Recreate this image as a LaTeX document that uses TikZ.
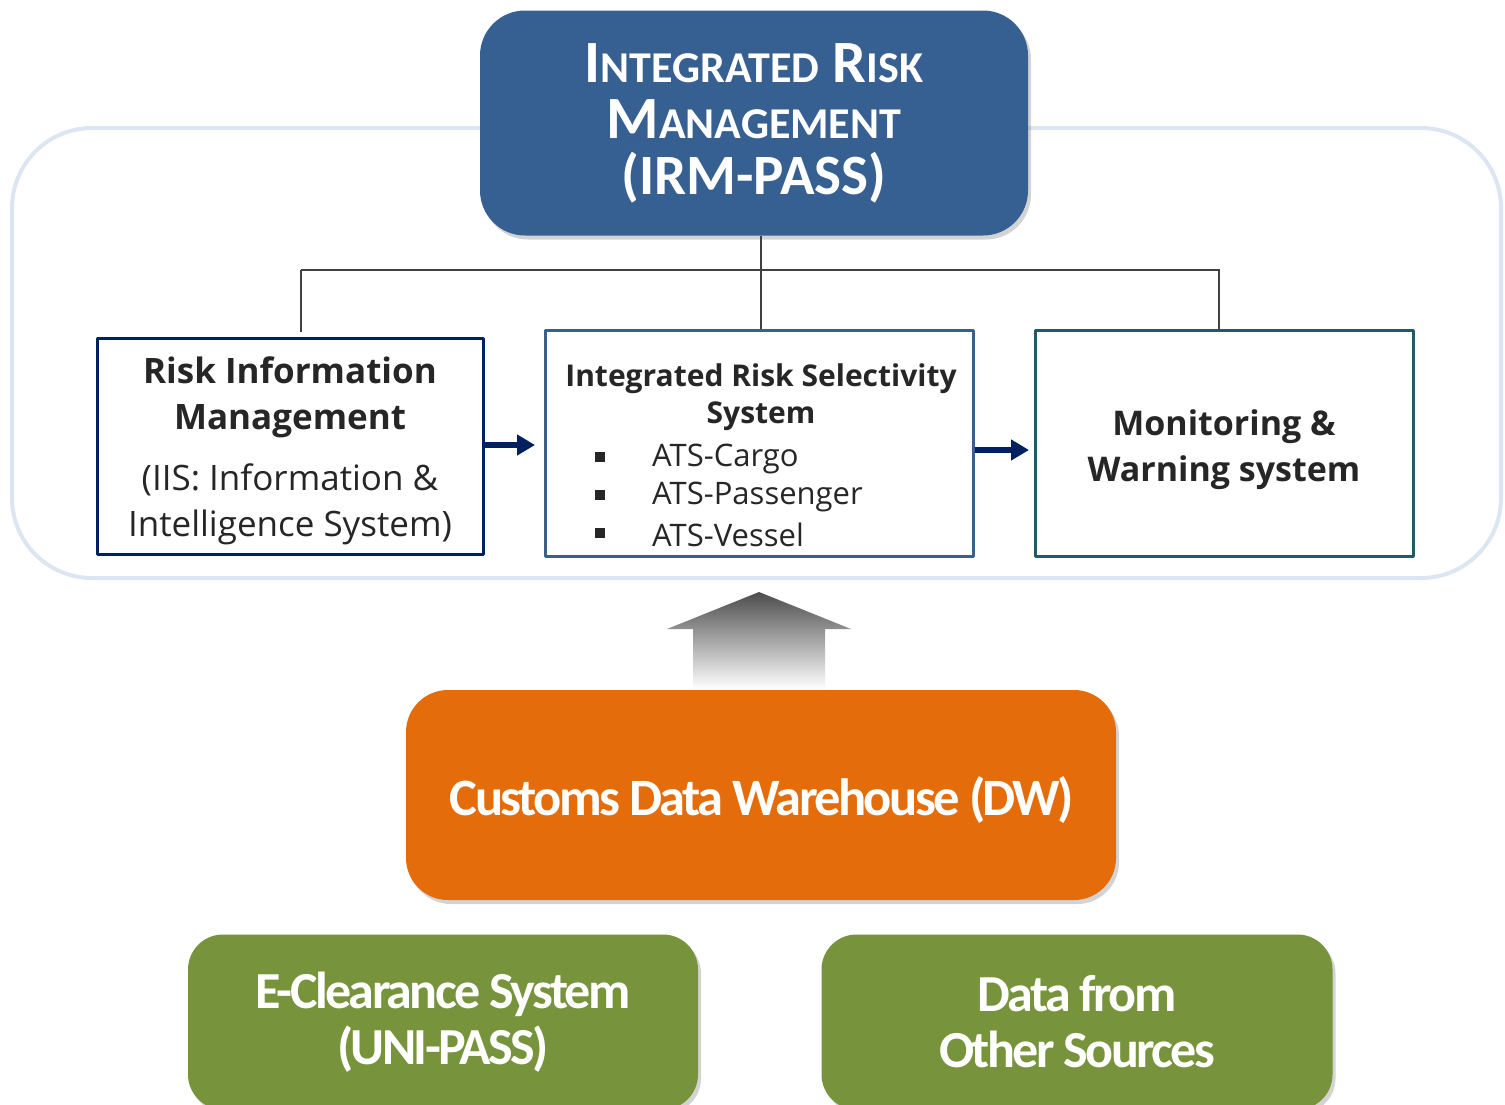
\documentclass[tikz,border=0pt]{standalone}
\usepackage{fontspec}
\setmainfont{Open Sans}
\newfontfamily\calfont{Carlito}
\usepackage{tikz}
\usetikzlibrary{arrows.meta,calc,positioning,shadows}
\definecolor{irmblue}{HTML}{376092}
\definecolor{dworange}{HTML}{E46C0A}
\definecolor{srcgreen}{HTML}{77933C}
\definecolor{framecol}{HTML}{DCE6F2}
\definecolor{navyline}{HTML}{002060}
\definecolor{midline}{HTML}{3A5F8C}
\definecolor{tealline}{HTML}{215968}
\definecolor{txtgray}{HTML}{262626}
\newcommand{\smallcap}[1]{{\fontsize{44}{56}\selectfont #1}}

\begin{document}
\begin{tikzpicture}[x=1pt,y=-1pt,line cap=round,line join=round,>={Triangle[length=18pt,width=20pt]}]
\tikzset{
  roundbox/.style={rounded corners=#1, drop shadow={shadow xshift=3pt,shadow yshift=-4pt,opacity=.35}, text=white, align=center, inner sep=0pt},
  subbox/.style={draw=#1, line width=3pt, fill=white, text=txtgray, align=center, inner sep=0pt},
  tree/.style={draw=black!75, line width=2pt, line cap=butt},
  flow/.style={draw=navyline, line width=6pt, ->, line cap=butt},
  calbig/.style={font=\calfont\bfseries\fontsize{#1}{56}\selectfont\addfontfeature{LetterSpace=-5}}
}
\useasboundingbox (0,0) rectangle (1505,1104);
\clip (0,0) rectangle (1505,1104);

% frame round the risk systems
\draw[framecol, line width=4pt, rounded corners=80pt] (12,128) rectangle (1501,578);

% top
\node[roundbox=45pt, fill=irmblue, minimum width=548, minimum height=225,
      font=\calfont\bfseries\fontsize{60}{56}\selectfont] (irm) at (754,123)
  {I\smallcap{NTEGRATED}\ R\smallcap{ISK}\\M\smallcap{ANAGEMENT}\\{\fontsize{57}{56}\selectfont(IRM-PASS)}};

% three systems
\node[subbox=navyline, minimum width=386, minimum height=216, font=\fontsize{35}{46}\selectfont] (rim) at (290,446) {};
\node[text=txtgray, align=center, inner sep=0pt, font=\fontsize{35}{46}\selectfont] (rimtext) at (290,451)
  {\textbf{Risk Information}\\\textbf{Management}\\[15pt]
   (IIS: Information \&\\Intelligence System)};
\node[subbox=midline, minimum width=428, minimum height=226] (irs) at (759,443) {};
\node[subbox=tealline, minimum width=378, minimum height=226] (mws) at (1224,443) {};
\node[text=txtgray, align=center, inner sep=0pt, font=\bfseries\fontsize{34}{46}\selectfont] (mwstext) at (1224,450)
  {Monitoring \&\\Warning system};

\node[text=txtgray, align=center, inner sep=0pt, font=\bfseries\fontsize{30}{37}\selectfont] (irstitle) at (761,397)
  {Integrated Risk Selectivity\\System};
\foreach \n/\t [count=\i from 0] in {cargo/Cargo,pass/Passenger,vess/Vessel}{
  \node[fill=txtgray, minimum size=10pt, inner sep=0pt] (b\n) at (600,457+38*\i) {};
  \node[anchor=west, text=txtgray, inner sep=0pt, font=\fontsize{31}{35}\selectfont] (t\n) at (652,459+38*\i) {ATS-\t};
}

% tree lines
\coordinate (split) at (761,270);
\draw[tree] (irm.south -| split) -- (split);
\draw[tree] (301,270) -- (1220,270);
\draw[tree] (301,270) -- (301,332);
\draw[tree] (split) -- (irs.north -| split);
\draw[tree] (1219,270) -- (mws.north -| 1219,0);

% flow arrows
\draw[flow] (rim.east |- 0,445) -- (535,445);
\draw[flow] (irs.east |- 0,450) -- (1029,450);

% big grey arrow
\shade[top color=black!70, bottom color=white] (759,592) -- (851,629) -- (825,629) -- (825,689) -- (693,689) -- (693,629) -- (667,629) -- cycle;

% warehouse
\node[roundbox=42pt, fill=dworange, minimum width=710, minimum height=210, calbig=52.5] (dw) at (761,795) {};
\node[text=white, inner sep=0pt, calbig=52.5] (dwtext) at (762,800) {Customs Data Warehouse (DW)};

% sources
\node[roundbox=35pt, fill=srcgreen, minimum width=510, minimum height=175, calbig=52] (ecs) at (443,1022)
  {E-Clearance System\\(UNI-PASS)};
\node[roundbox=35pt, fill=srcgreen, minimum width=511, minimum height=175, calbig=52] (oth) at (1077,1022)
  {Data from\\Other Sources};
\end{tikzpicture}
\end{document}
